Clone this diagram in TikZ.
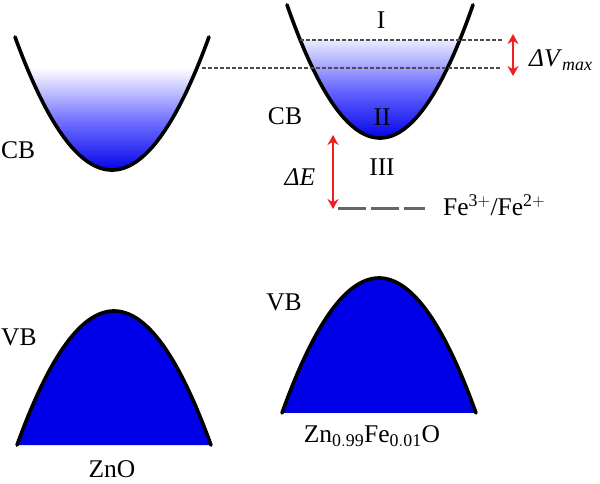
\documentclass[tikz,border=0pt]{standalone}
\usepackage{fontspec}
\setmainfont{Liberation Serif}
\usetikzlibrary{arrows.meta}
\definecolor{bandblue}{RGB}{0,0,232}
\definecolor{arrowred}{RGB}{240,30,30}
\tikzset{
  band/.style={line width=3.6pt, black, line cap=round},
  lbl/.style={font=\fontsize{25.5}{28}\selectfont, inner sep=0pt},
  lvl/.style={line width=1.7pt, black!70, dash pattern=on 3.5pt off 2.5pt},
  redarrow/.style={line width=2.4pt, arrowred, {Stealth[length=10pt,width=11pt]}-{Stealth[length=10pt,width=11pt]}},
  felevel/.style={line width=3pt, black!60, dash pattern=on 28pt off 5pt}
}
\begin{document}
\begin{tikzpicture}[x=1pt,y=-1pt]
\useasboundingbox (0,0) rectangle (600,483);
% left CB
\begin{scope}
\clip plot[domain=15:209, samples=80] (\x,{170-0.01414*(\x-112)*(\x-112)});
\shade[top color=white, bottom color=bandblue, middle color=blue!55] (0,68) rectangle (230,172);
\end{scope}
\draw[band] plot[domain=15:209, samples=80] (\x,{170-0.01414*(\x-112)*(\x-112)});
% right CB
\begin{scope}
\clip plot[domain=287:473, samples=80] (\x,{138-0.01540*(\x-380)*(\x-380)});
\shade[top color=blue!8, bottom color=bandblue, middle color=blue!60] (270,40) rectangle (490,140);
\end{scope}
\draw[band] plot[domain=287:473, samples=80] (\x,{138-0.01540*(\x-380)*(\x-380)});
% levels
\coordinate (l1a) at (300,40);
\coordinate (l1b) at (502,40);
\coordinate (l2a) at (202,68);
\coordinate (l2b) at (502,68);
\draw[lvl] (l1a) -- (l1b);
\draw[lvl] (l2a) -- (l2b);
% arrows
\coordinate (va) at (513,34);
\coordinate (vb) at (513,76);
\draw[redarrow] (va) -- (vb);
\coordinate (ea) at (333,135);
\coordinate (eb) at (333,209);
\draw[redarrow] (ea) -- (eb);
% Fe level
\coordinate (fa) at (338,208);
\coordinate (fb) at (425,208);
\draw[felevel] (fa) -- (fb);
% labels
\node[lbl, anchor=west] (cb1) at (1,150) {CB};
\node[lbl] (cb2) at (285,116) {CB};
\node[lbl] (r1) at (381,20) {I};
\node[lbl] (r2) at (382,117) {II};
\node[lbl] (r3) at (382,167) {III};
\node[lbl, anchor=west] (dv) at (529,60) {\textit{ΔV}$_{\mathit{max}}$};
\node[lbl] (de) at (300,177) {\textit{ΔE}};
\node[lbl, anchor=west] (fe) at (443,205) {Fe$^{\mathrm{3+}}$/Fe$^{\mathrm{2+}}$};
% VB left
\fill[bandblue] plot[domain=17:211, samples=80] (\x,{311+0.01425*(\x-114)*(\x-114)}) -- cycle;
\draw[band] plot[domain=17:211, samples=80] (\x,{311+0.01425*(\x-114)*(\x-114)});
% VB right
\fill[bandblue] plot[domain=282:476, samples=80] (\x,{278+0.01434*(\x-379)*(\x-379)}) -- cycle;
\draw[band] plot[domain=282:476, samples=80] (\x,{278+0.01434*(\x-379)*(\x-379)});
\node[lbl, anchor=west] (vb1) at (1,337) {VB};
\node[lbl] (vb2) at (284,302) {VB};
\node[lbl] (zno) at (112,469) {ZnO};
\node[lbl] (znfe) at (372,436) {Zn$_{\mathrm{0.99}}$Fe$_{\mathrm{0.01}}$O};
\end{tikzpicture}
\end{document}
